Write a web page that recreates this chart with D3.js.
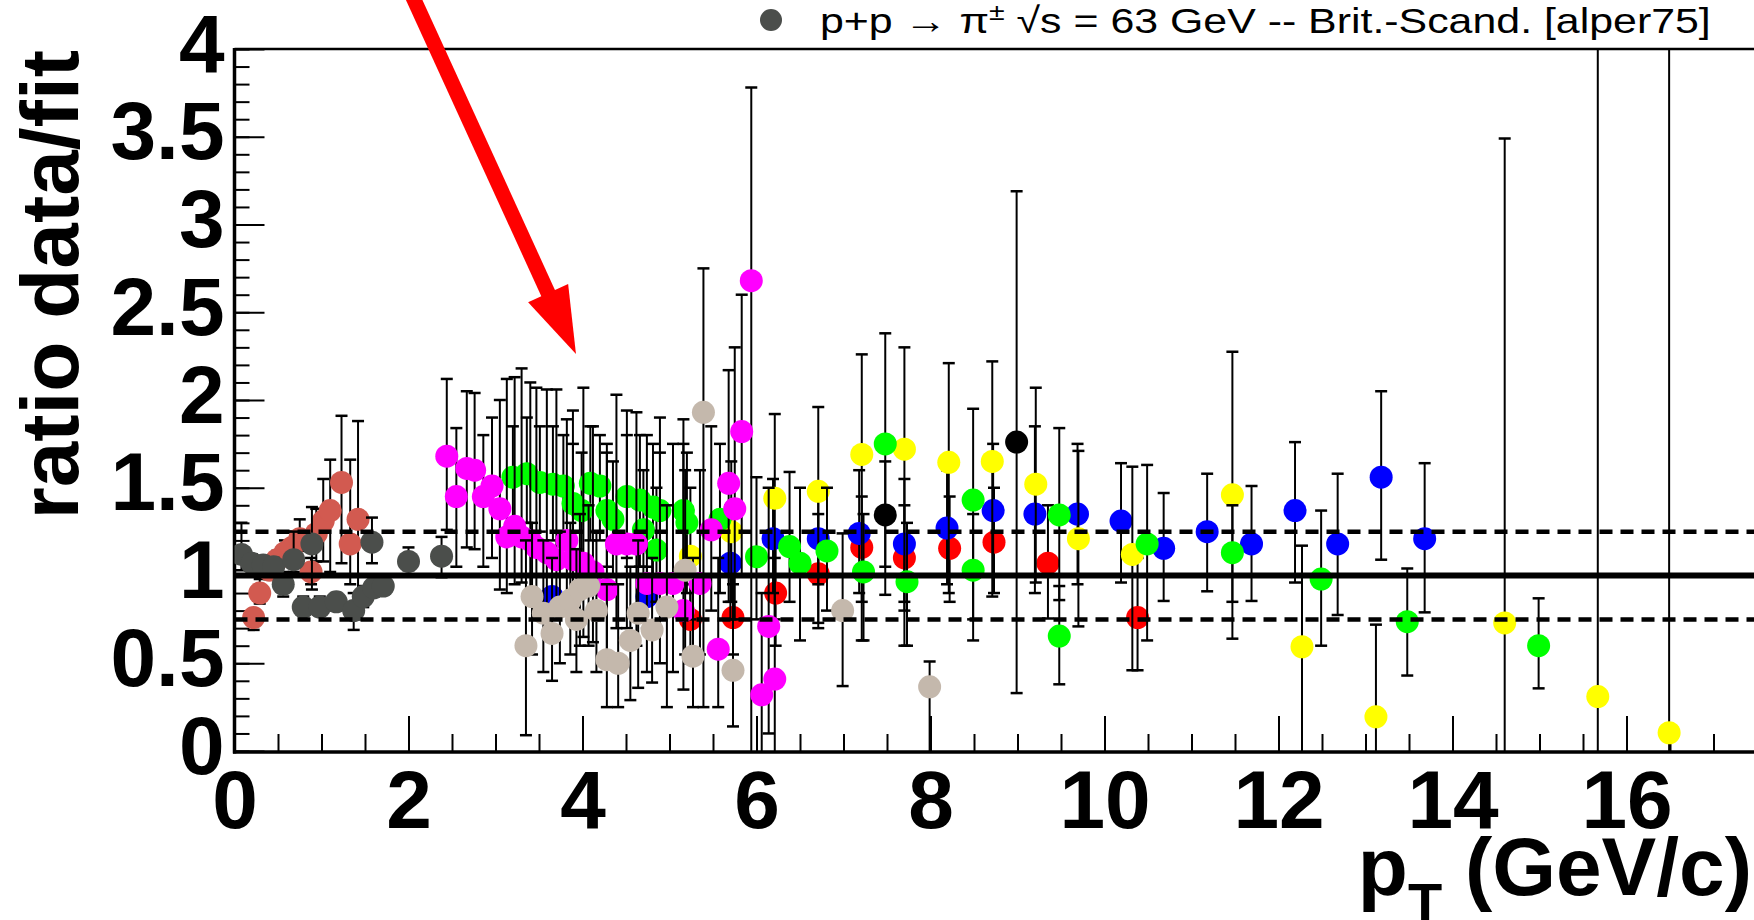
<!DOCTYPE html>
<html>
<head>
<meta charset="utf-8">
<script src="https://cdn.jsdelivr.net/npm/d3@7"></script>
<style>
  body { margin: 0; background: #fff; }
  svg { display: block; font-family: "Liberation Sans", Arial, Helvetica, sans-serif; }
</style>
</head>
<body>
<div id="chart"></div>
<script>
// 1. Data -------------------------------------------------
// every point: [pT, ratio, lower end of error bar, upper end of error bar]
var grayPts = [
  [0.08, 1.12, 1.03, 1.30], [0.20, 1.07, 1.02, 1.12], [0.33, 1.06, 1.01, 1.11],
  [0.45, 1.05, 1.00, 1.10], [0.56, 0.95, 0.88, 1.02], [0.68, 1.09, 1.02, 1.25],
  [0.79, 0.82, 0.77, 0.88], [0.89, 1.18, 0.92, 1.39], [0.98, 0.82, 0.77, 0.88],
  [1.17, 0.85, 0.80, 0.90], [1.37, 0.80, 0.69, 0.90], [1.48, 0.88, 0.82, 0.94],
  [1.58, 1.19, 1.07, 1.33], [1.60, 0.93, 0.88, 0.98], [1.71, 0.94, 0.89, 0.99],
  [2.00, 1.08, 1.03, 1.16], [2.38, 1.11, 0.99, 1.22]
];
var salmonPts = [
  [0.22, 0.76, 0.69, 0.80], [0.29, 0.90, 0.84, 0.98], [0.40, 1.03, 0.98, 1.08],
  [0.49, 1.09, 1.03, 1.14], [0.58, 1.13, 1.08, 1.20], [0.66, 1.16, 1.10, 1.25],
  [0.75, 1.21, 1.14, 1.32], [0.88, 1.02, 0.95, 1.10], [0.94, 1.24, 1.08, 1.38],
  [1.02, 1.31, 1.08, 1.55], [1.10, 1.37, 1.02, 1.66], [1.23, 1.53, 1.07, 1.91],
  [1.33, 1.18, 0.95, 1.66], [1.42, 1.32, 0.75, 1.88]
];
var magentaPts = [
  [2.44, 1.68, 1.26, 2.12], [2.55, 1.45, 1.05, 1.84], [2.67, 1.61, 1.16, 2.05],
  [2.76, 1.60, 1.15, 2.04], [2.86, 1.45, 1.05, 1.80], [2.96, 1.51, 1.10, 1.90],
  [3.05, 1.38, 0.92, 2.00], [3.13, 1.22, 0.90, 2.12], [3.22, 1.28, 0.95, 2.13],
  [3.30, 1.22, 0.96, 2.18], [3.40, 1.20, 0.85, 2.10], [3.47, 1.16, 0.85, 2.07],
  [3.59, 1.13, 0.80, 2.06], [3.70, 1.09, 0.78, 2.06], [3.82, 1.20, 0.80, 1.89],
  [3.89, 1.09, 0.75, 1.94], [4.01, 1.07, 0.65, 2.07], [4.12, 1.02, 0.62, 1.85],
  [4.28, 0.92, 0.55, 1.75], [4.39, 1.18, 0.70, 2.03], [4.51, 1.18, 0.70, 1.94],
  [4.62, 1.18, 0.60, 1.93], [4.74, 0.955, 0.45, 1.80], [4.89, 0.955, 0.50, 1.90],
  [5.04, 0.955, 0.45, 1.75], [5.16, 0.80, 0.35, 1.89], [5.35, 0.955, 0.55, 1.60],
  [5.48, 1.26, 0.80, 1.85], [5.56, 0.58, 0.25, 1.10], [5.68, 1.525, 0.85, 2.17],
  [5.75, 1.38, 0.75, 2.30], [5.83, 1.82, 1.00, 2.60], [5.94, 2.68, 0.00, 3.78],
  [6.06, 0.32, 0.00, 0.90], [6.14, 0.71, 0.10, 1.50], [6.21, 0.41, 0.00, 1.10]
];
var tanPts = [
  [3.35, 0.60, 0.09, 1.20], [3.42, 0.88, 0.55, 1.30], [3.55, 0.785, 0.45, 1.20],
  [3.65, 0.67, 0.40, 1.10], [3.74, 0.82, 0.50, 1.25], [3.86, 0.86, 0.55, 1.30],
  [3.93, 0.75, 0.45, 1.15], [3.97, 0.92, 0.60, 1.35], [4.07, 0.94, 0.60, 1.40],
  [4.16, 0.80, 0.45, 1.25], [4.28, 0.52, 0.25, 0.95], [4.41, 0.50, 0.25, 0.95],
  [4.55, 0.63, 0.29, 1.05], [4.64, 0.785, 0.36, 1.20], [4.80, 0.69, 0.39, 1.10],
  [4.97, 0.82, 0.25, 1.40], [5.18, 1.03, 0.55, 1.60], [5.27, 0.54, 0.25, 1.10],
  [5.39, 1.93, 0.25, 2.75], [5.73, 0.46, 0.14, 0.95], [6.99, 0.80, 0.37, 1.24],
  [7.99, 0.366, 0.00, 0.51]
];
var greenPts = [
  [3.20, 1.56, 1.30, 1.85], [3.36, 1.58, 1.30, 1.90], [3.51, 1.53, 1.25, 1.85],
  [3.66, 1.52, 1.20, 1.85], [3.78, 1.51, 1.20, 1.80], [3.89, 1.41, 1.10, 1.75],
  [3.99, 1.37, 1.05, 1.70], [4.09, 1.525, 1.20, 1.85], [4.20, 1.51, 1.20, 1.80],
  [4.28, 1.37, 1.05, 1.70], [4.35, 1.32, 1.00, 1.65], [4.51, 1.45, 1.10, 1.80],
  [4.66, 1.43, 1.05, 1.80], [4.70, 1.26, 0.95, 1.60], [4.81, 1.39, 1.00, 1.75],
  [4.85, 1.145, 0.85, 1.50], [4.89, 1.37, 1.00, 1.70], [5.16, 1.37, 0.95, 1.75],
  [5.20, 1.30, 0.90, 1.70], [5.58, 1.32, 0.90, 1.75], [6.00, 1.107, 0.75, 1.56],
  [6.38, 1.165, 0.85, 1.59], [6.50, 1.07, 0.63, 1.50], [6.81, 1.14, 0.80, 1.50],
  [7.23, 1.02, 0.63, 1.35], [7.48, 1.75, 0.89, 2.38], [7.73, 0.965, 0.60, 1.30],
  [8.49, 1.43, 0.63, 1.95], [8.49, 1.03, 0.75, 1.35], [9.48, 1.345, 0.86, 1.84],
  [9.48, 0.655, 0.38, 0.94], [10.49, 1.18, 0.63, 1.63], [11.47, 1.13, 0.85, 1.40],
  [12.49, 0.98, 0.60, 1.37], [13.48, 0.737, 0.43, 1.04], [14.99, 0.60, 0.357, 0.87]
];
var bluePts = [
  [3.65, 0.88, 0.75, 1.00], [4.74, 0.88, 0.70, 1.05], [5.70, 1.07, 0.75, 1.40],
  [6.19, 1.21, 0.90, 1.55], [6.71, 1.21, 0.95, 1.50], [7.18, 1.24, 0.90, 1.60],
  [7.70, 1.18, 0.85, 1.55], [8.19, 1.27, 0.95, 1.60], [8.72, 1.37, 1.00, 1.75],
  [9.20, 1.35, 0.90, 1.85], [9.69, 1.35, 0.95, 1.75], [10.19, 1.31, 0.96, 1.64],
  [10.68, 1.155, 0.855, 1.47], [11.18, 1.25, 0.91, 1.58], [11.69, 1.18, 0.855, 1.51],
  [12.19, 1.37, 0.96, 1.76], [12.68, 1.18, 0.775, 1.58], [13.18, 1.56, 1.09, 2.05],
  [13.68, 1.21, 0.79, 1.64]
];
var redPts = [
  [5.24, 0.75, 0.50, 1.00], [5.73, 0.76, 0.55, 1.00], [6.22, 0.90, 0.60, 1.20],
  [6.71, 1.01, 0.70, 1.35], [7.21, 1.16, 0.85, 1.45], [7.70, 1.10, 0.80, 1.40],
  [8.22, 1.155, 0.85, 1.45], [8.73, 1.19, 0.90, 1.50], [9.35, 1.07, 0.755, 1.40],
  [10.38, 0.76, 0.46, 1.10]
];
var yellowPts = [
  [5.24, 1.11, 0.75, 1.50], [5.71, 1.25, 0.85, 1.65], [6.21, 1.44, 0.75, 1.92],
  [6.71, 1.48, 0.73, 1.96], [7.21, 1.69, 0.63, 2.26], [7.70, 1.72, 0.60, 2.30],
  [8.21, 1.645, 0.90, 2.21], [8.71, 1.65, 0.88, 2.22], [9.21, 1.52, 0.96, 2.07],
  [9.70, 1.21, 0.71, 1.71], [10.32, 1.12, 0.46, 1.62], [11.47, 1.46, 0.64, 2.275],
  [12.27, 0.594, 0.00, 1.17], [13.12, 0.195, 0.00, 0.72], [14.60, 0.73, 0.00, 3.49],
  [15.67, 0.31, 0.00, 4.50], [16.49, 0.104, 0.00, 4.50]
];
var blackPts = [
  [7.48, 1.345, 1.05, 1.65], [8.99, 1.76, 0.33, 3.19]
];

var yTickValues = [0, 0.5, 1, 1.5, 2, 2.5, 3, 3.5, 4];
var yTickLabels = ["0", "0.5", "1", "1.5", "2", "2.5", "3", "3.5", "4"];
var xTickValues = [0, 2, 4, 6, 8, 10, 12, 14, 16];
var xTickLabels = ["0", "2", "4", "6", "8", "10", "12", "14", "16"];
var refLines = [1.25, 0.75];   // dashed band
var fitLine = 1;               // solid line
var arrowFrom = [2.0, 4.35];
var arrowTo = [3.925, 2.262];

// 2. Set up SVG chart -------------------------------------
var svgWidth = 1754;
var svgHeight = 920;

var svg = d3.select("#chart")
  .append("svg")
  .attr("width", svgWidth)
  .attr("height", svgHeight);

var xScale = d3.scaleLinear().domain([0, 18]).range([234.5, 1800.5]);
var yScale = d3.scaleLinear().domain([0, 4]).range([751, 49]);

svg.append("clipPath").attr("id", "plotclip")
  .append("rect")
  .attr("x", xScale(0)).attr("y", yScale(4))
  .attr("width", svgWidth - xScale(0)).attr("height", yScale(0) - yScale(4) + 1);

// 3. Axes -------------------------------------------------
// minor ticks
svg.append("g")
  .attr("transform", `translate(0, ${yScale(0) + 1})`)
  .call(d3.axisBottom(xScale).tickValues(d3.range(0, 17.6, 0.5)).tickSize(-18).tickFormat(""))
  .call(g => g.select(".domain").remove())
  .selectAll("line").attr("stroke-width", 2);

svg.append("g")
  .attr("transform", `translate(${xScale(0)}, 0)`)
  .call(d3.axisLeft(yScale).tickValues(d3.range(0, 40.5, 1).map(d => d / 10)).tickSize(-15).tickFormat(""))
  .call(g => g.select(".domain").remove())
  .selectAll("line").attr("stroke-width", 2);

// major ticks with labels
var xAxis = svg.append("g")
  .attr("transform", `translate(0, ${yScale(0) + 1})`)
  .call(d3.axisBottom(xScale).tickValues(xTickValues).tickSize(-36).tickSizeOuter(0)
    .tickPadding(10).tickFormat((d, i) => xTickLabels[i]));
xAxis.select(".domain").remove();
xAxis.selectAll("line").attr("stroke-width", 2);
xAxis.selectAll("text")
  .attr("y", 76).attr("dy", null)
  .attr("font-size", 82).attr("font-weight", "bold").attr("fill", "#000");

var yAxis = svg.append("g")
  .attr("transform", `translate(${xScale(0)}, 0)`)
  .call(d3.axisLeft(yScale).tickValues(yTickValues).tickSize(-30).tickSizeOuter(0)
    .tickPadding(10).tickFormat((d, i) => yTickLabels[i]));
yAxis.select(".domain").remove();
yAxis.selectAll("line").attr("stroke-width", 2);
yAxis.selectAll("text")
  .attr("dy", null).attr("y", 22)
  .attr("font-size", 82).attr("font-weight", "bold").attr("fill", "#000");

// frame lines
svg.append("line")
  .attr("x1", xScale(0) - 1.5).attr("x2", svgWidth)
  .attr("y1", yScale(0) + 1).attr("y2", yScale(0) + 1)
  .attr("stroke", "#000").attr("stroke-width", 3.5);
svg.append("line")
  .attr("x1", xScale(0)).attr("x2", xScale(0))
  .attr("y1", yScale(4) - 1).attr("y2", yScale(0) + 2.5)
  .attr("stroke", "#000").attr("stroke-width", 3.5);
svg.append("line")
  .attr("x1", xScale(0)).attr("x2", svgWidth)
  .attr("y1", yScale(4)).attr("y2", yScale(4))
  .attr("stroke", "#000").attr("stroke-width", 2.5);

// 4. Data points with error bars -------------------------
var plot = svg.append("g").attr("clip-path", "url(#plotclip)");

function drawSeries(pts, color) {
  var g = plot.append("g");
  g.selectAll(".bar").data(pts).enter().append("line")
    .attr("x1", d => xScale(d[0])).attr("x2", d => xScale(d[0]))
    .attr("y1", d => yScale(d[2])).attr("y2", d => yScale(d[3]))
    .attr("stroke", "#000").attr("stroke-width", 2);
  g.selectAll(".capHi").data(pts.filter(d => d[3] < 4)).enter().append("line")
    .attr("x1", d => xScale(d[0]) - 6).attr("x2", d => xScale(d[0]) + 6)
    .attr("y1", d => yScale(d[3])).attr("y2", d => yScale(d[3]))
    .attr("stroke", "#000").attr("stroke-width", 2.5);
  g.selectAll(".capLo").data(pts.filter(d => d[2] > 0)).enter().append("line")
    .attr("x1", d => xScale(d[0]) - 6).attr("x2", d => xScale(d[0]) + 6)
    .attr("y1", d => yScale(d[2])).attr("y2", d => yScale(d[2]))
    .attr("stroke", "#000").attr("stroke-width", 2.5);
  g.selectAll("circle").data(pts).enter().append("circle")
    .attr("cx", d => xScale(d[0]))
    .attr("cy", d => yScale(d[1]))
    .attr("r", 11.5)
    .attr("fill", color);
}

drawSeries(redPts, "#ff0000");
drawSeries(bluePts, "#0000ff");
drawSeries(blackPts, "#000000");
drawSeries(yellowPts, "#ffff00");
drawSeries(greenPts, "#00ff00");
drawSeries(magentaPts, "#ff00ff");
drawSeries(tanPts, "#c4b8ac");
drawSeries(salmonPts, "#d25a50");
drawSeries(grayPts, "#4b4e4b");

// reference lines on top
refLines.forEach(function(v) {
  plot.append("line")
    .attr("x1", xScale(0)).attr("x2", svgWidth)
    .attr("y1", yScale(v)).attr("y2", yScale(v))
    .attr("stroke", "#000").attr("stroke-width", 4.5)
    .attr("stroke-dasharray", "13,8");
});
plot.append("line")
  .attr("x1", xScale(0)).attr("x2", svgWidth)
  .attr("y1", yScale(fitLine)).attr("y2", yScale(fitLine))
  .attr("stroke", "#000").attr("stroke-width", 6);

// 5. Axis titles -----------------------------------------
svg.append("text")
  .attr("transform", "translate(78, 50) rotate(-90)")
  .attr("text-anchor", "end")
  .attr("font-size", 82).attr("font-weight", "bold")
  .text("ratio data/fit");

var xTitle = svg.append("text")
  .attr("x", 1752).attr("y", 895)
  .attr("text-anchor", "end")
  .attr("font-size", 82).attr("font-weight", "bold");
xTitle.append("tspan").text("p");
xTitle.append("tspan").attr("font-size", 56).attr("dy", 27).text("T");
xTitle.append("tspan").attr("dy", -27).text(" (GeV/c)");

// 6. Legend ----------------------------------------------
svg.append("circle")
  .attr("cx", 771).attr("cy", 20).attr("r", 11)
  .attr("fill", "#4b4e4b");

var legend = svg.append("text")
  .attr("font-size", 36);
legend.append("tspan").text("p+p \u2192 \u03c0");
legend.append("tspan").attr("font-size", 24).attr("dy", -13).text("\u00b1");
legend.append("tspan").attr("dy", 13).text(" \u221as = 63 GeV -- Brit.-Scand. [alper75]");
var legendW = legend.node().getComputedTextLength();
legend.attr("transform", `translate(820, 33) scale(${891 / legendW}, 1)`);

// 7. Red arrow -------------------------------------------
var p0 = [xScale(arrowFrom[0]), yScale(arrowFrom[1])];
var p1 = [xScale(arrowTo[0]), yScale(arrowTo[1])];
var len = Math.hypot(p1[0] - p0[0], p1[1] - p0[1]);
var ux = (p1[0] - p0[0]) / len, uy = (p1[1] - p0[1]) / len;
var headLen = 67, headHalf = 22;
var bx = p1[0] - headLen * ux, by = p1[1] - headLen * uy;

svg.append("line")
  .attr("x1", p0[0]).attr("y1", p0[1])
  .attr("x2", bx + 3 * ux).attr("y2", by + 3 * uy)
  .attr("stroke", "#ff0000").attr("stroke-width", 15);
svg.append("path")
  .attr("d", d3.line()([
    [p1[0], p1[1]],
    [bx - headHalf * uy, by + headHalf * ux],
    [bx + headHalf * uy, by - headHalf * ux]
  ]) + "Z")
  .attr("fill", "#ff0000");
</script>
</body>
</html>
